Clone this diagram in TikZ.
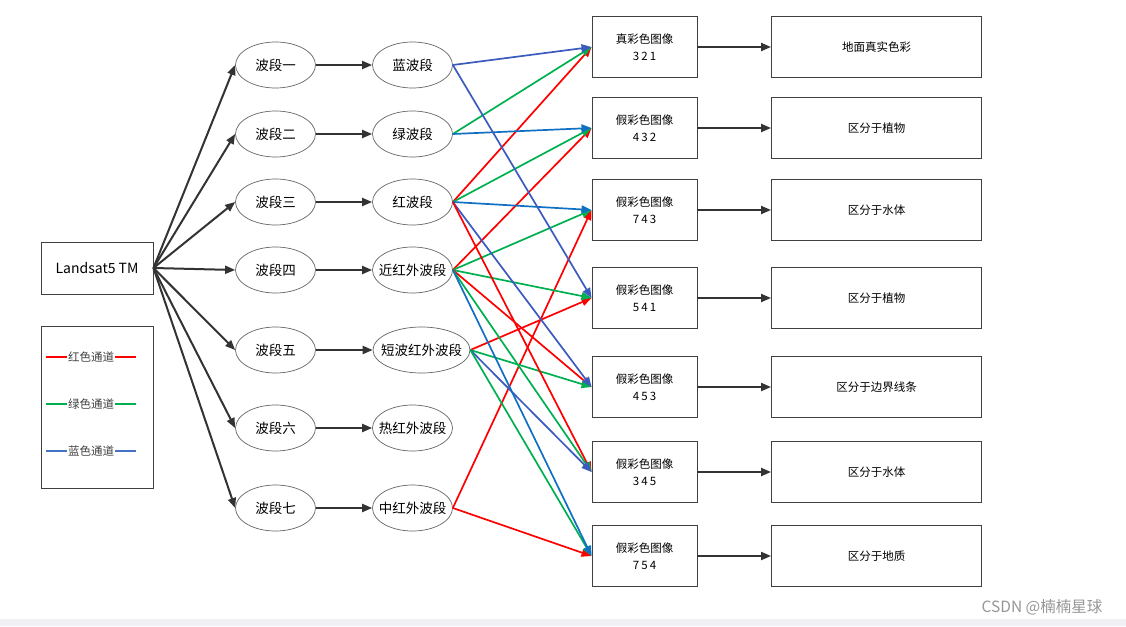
\documentclass[tikz,border=0pt]{standalone}
\usepackage{fontspec}
\setmainfont{Noto Sans CJK SC}
\usepackage{tikz}
\usetikzlibrary{arrows.meta, shapes.geometric}
\usepackage{xcolor}
\definecolor{framegray}{RGB}{64, 64, 64}
\definecolor{rimgray}{RGB}{100, 100, 100}
\definecolor{flowgray}{RGB}{51, 51, 51}
\definecolor{chanred}{RGB}{255, 0, 0}
\definecolor{changreen}{RGB}{0, 176, 80}
\definecolor{chanblue}{RGB}{59, 91, 190}
\definecolor{chansky}{RGB}{16, 112, 196}
\definecolor{legendblue}{RGB}{68, 114, 196}
\definecolor{marktext}{RGB}{150, 150, 150}
\definecolor{stripgray}{RGB}{240, 240, 245}
\newcommand{\combo}[1]{{\addfontfeature{LetterSpace=18}#1}}
\tikzset{
    sensorbox/.style={rectangle, draw=framegray, line width=0.9pt, minimum width=112pt, minimum height=52pt, inner sep=0pt, font=\fontsize{14}{16}\selectfont},
    legendbox/.style={rectangle, draw=framegray, line width=0.9pt, minimum width=112pt, minimum height=162pt, inner sep=0pt},
    bandnode/.style={ellipse, draw=rimgray, line width=0.7pt, minimum width=80pt, minimum height=46pt, inner xsep=-12pt, inner ysep=0pt, font=\fontsize{13.5}{16}\selectfont},
    imagebox/.style={rectangle, draw=framegray, line width=0.9pt, minimum width=105pt, minimum height=61pt, inner sep=0pt, align=center, font=\fontsize{11.5}{17}\selectfont},
    usebox/.style={rectangle, draw=framegray, line width=0.9pt, minimum width=210pt, minimum height=61pt, inner sep=0pt, font=\fontsize{11.5}{14}\selectfont},
    flowarrow/.style={-{Triangle[length=10pt, width=8pt]}, line width=2pt, draw=flowgray},
    redarrow/.style={-{Triangle[length=10pt, width=8pt]}, line width=1.7pt, draw=chanred, fill=chanred},
    greenarrow/.style={-{Triangle[length=10pt, width=8pt]}, line width=1.7pt, draw=changreen, fill=changreen},
    bluearrow/.style={-{Triangle[length=10pt, width=8pt]}, line width=1.7pt, draw=chanblue, fill=chanblue},
    skyarrow/.style={-{Triangle[length=10pt, width=8pt]}, line width=1.7pt, draw=chansky, fill=chansky},
    legendnote/.style={fill=white, inner xsep=1pt, inner ysep=0pt, text=framegray, font=\fontsize{11.5}{13}\selectfont}
}
\begin{document}
\begin{tikzpicture}[x=1pt, y=-1pt]
    \useasboundingbox (0,0) rectangle (1126,626);
    \fill[stripgray] (0,619) rectangle (1126,626);

    % sensor and legend
    \node[sensorbox] (tm) at (97,268) {Landsat5 TM};
    \node[legendbox] (legend) at (97,407) {};
    \coordinate (r1) at (46,357);  \coordinate (r2) at (136,357);
    \coordinate (g1) at (46,404);  \coordinate (g2) at (136,404);
    \coordinate (b1) at (46,451);  \coordinate (b2) at (136,451);
    \draw[line width=1.6pt, chanred] (r1) -- node[legendnote] {红色通道} (r2);
    \draw[line width=1.6pt, changreen] (g1) -- node[legendnote] {绿色通道} (g2);
    \draw[line width=1.6pt, legendblue] (b1) -- node[legendnote] {蓝色通道} (b2);

    % bands
    \node[bandnode] (band1) at (275.5,65) {波段一};
    \node[bandnode] (band2) at (275.5,134) {波段二};
    \node[bandnode] (band3) at (275.5,202) {波段三};
    \node[bandnode] (band4) at (275.5,270) {波段四};
    \node[bandnode] (band5) at (275.5,350) {波段五};
    \node[bandnode] (band6) at (275.5,428) {波段六};
    \node[bandnode] (band7) at (275.5,508) {波段七};

    \node[bandnode] (blue) at (412.5,65) {蓝波段};
    \node[bandnode] (green) at (412.5,134) {绿波段};
    \node[bandnode] (red) at (412.5,202) {红波段};
    \node[bandnode] (nir) at (412.5,270) {近红外波段};
    \node[bandnode, minimum width=97pt] (swir) at (421.5,350) {短波红外波段};
    \node[bandnode] (tir) at (412.5,428) {热红外波段};
    \node[bandnode] (mir) at (412.5,508) {中红外波段};

    % composites and uses
    \node[imagebox] (c321) at (644.5,47) {真彩色图像\\\combo{321}};
    \node[imagebox] (c432) at (644.5,128) {假彩色图像\\\combo{432}};
    \node[imagebox] (c743) at (644.5,210) {假彩色图像\\\combo{743}};
    \node[imagebox] (c541) at (644.5,298) {假彩色图像\\\combo{541}};
    \node[imagebox] (c453) at (644.5,387) {假彩色图像\\\combo{453}};
    \node[imagebox] (c345) at (644.5,472) {假彩色图像\\\combo{345}};
    \node[imagebox] (c754) at (644.5,556) {假彩色图像\\\combo{754}};

    \node[usebox] (u321) at (876.5,47) {地面真实色彩};
    \node[usebox] (u432) at (876.5,128) {区分于植物};
    \node[usebox] (u743) at (876.5,210) {区分于水体};
    \node[usebox] (u541) at (876.5,298) {区分于植物};
    \node[usebox] (u453) at (876.5,387) {区分于边界线条};
    \node[usebox] (u345) at (876.5,472) {区分于水体};
    \node[usebox] (u754) at (876.5,556) {区分于地质};

    % grey flow
    \draw[flowarrow] (tm.east) -- (band1.west);
    \draw[flowarrow] (tm.east) -- (band2.west);
    \draw[flowarrow] (tm.east) -- (band3.west);
    \draw[flowarrow] (tm.east) -- (band4.west);
    \draw[flowarrow] (tm.east) -- (band5.west);
    \draw[flowarrow] (tm.east) -- (band6.west);
    \draw[flowarrow] (tm.east) -- (band7.west);
    \draw[flowarrow] (band1) -- (blue);
    \draw[flowarrow] (band2) -- (green);
    \draw[flowarrow] (band3) -- (red);
    \draw[flowarrow] (band4) -- (nir);
    \draw[flowarrow] (band5) -- (swir);
    \draw[flowarrow] (band6) -- (tir);
    \draw[flowarrow] (band7) -- (mir);
    \draw[flowarrow] (c321) -- (u321);
    \draw[flowarrow] (c432) -- (u432);
    \draw[flowarrow] (c743) -- (u743);
    \draw[flowarrow] (c541) -- (u541);
    \draw[flowarrow] (c453) -- (u453);
    \draw[flowarrow] (c345) -- (u345);
    \draw[flowarrow] (c754) -- (u754);

    % colour channels (R, G, B)
    \draw[redarrow] (red.east) -- (c321.west);
    \draw[greenarrow] (green.east) -- (c321.west);
    \draw[bluearrow] (blue.east) -- (c321.west);
    \draw[redarrow] (nir.east) -- (c432.west);
    \draw[greenarrow] (red.east) -- (c432.west);
    \draw[skyarrow] (green.east) -- (c432.west);
    \draw[redarrow] (mir.east) -- (c743.west);
    \draw[greenarrow] (nir.east) -- (c743.west);
    \draw[skyarrow] (red.east) -- (c743.west);
    \draw[redarrow] (swir.east) -- (c541.west);
    \draw[greenarrow] (nir.east) -- (c541.west);
    \draw[bluearrow] (blue.east) -- (c541.west);
    \draw[redarrow] (nir.east) -- (c453.west);
    \draw[greenarrow] (swir.east) -- (c453.west);
    \draw[bluearrow] (red.east) -- (c453.west);
    \draw[redarrow] (red.east) -- (c345.west);
    \draw[greenarrow] (nir.east) -- (c345.west);
    \draw[bluearrow] (swir.east) -- (c345.west);
    \draw[redarrow] (mir.east) -- (c754.west);
    \draw[greenarrow] (swir.east) -- (c754.west);
    \draw[skyarrow] (nir.east) -- (c754.west);

    \node[text=marktext, font=\fontsize{15.5}{18}\selectfont] (mark) at (1042,607) {CSDN @楠楠星球};
\end{tikzpicture}
\end{document}
